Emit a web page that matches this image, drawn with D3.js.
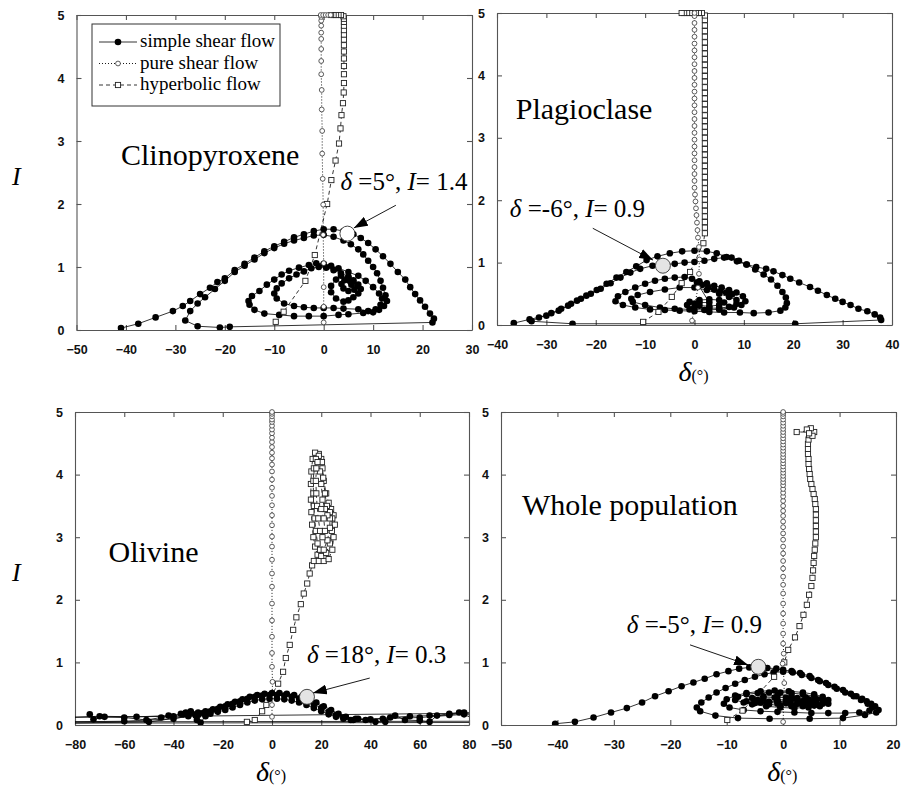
<!DOCTYPE html>
<html>
<head>
<meta charset="utf-8">
<script src="https://cdn.jsdelivr.net/npm/d3@7"></script>
<style>
  body { margin: 0; background: #fff; }
  svg { display: block; }
</style>
</head>
<body>
<svg id="chart"></svg>
<script>
// --- data: [delta (deg), I] ---
const cpxSimple = [
  [-41,0.03],[-37.5,0.1],[-34,0.2],[-30.5,0.3],[-28.5,0.38],[-27,0.46],[-25,0.57],[-23,0.67],[-21.5,0.76],[-20,0.82],
  [-18,0.95],[-16,1.05],[-14,1.15],[-12,1.25],[-10,1.33],[-8,1.4],[-6,1.47],[-4,1.52],[-2,1.57],[0,1.6],[2,1.6],
  [4,1.57],[6,1.52],[7.5,1.46],[9,1.38],[10.5,1.28],[12,1.17],[13.5,1.05],[15,0.92],[16.5,0.8],[17.5,0.68],
  [18.5,0.57],[19.5,0.47],[20.5,0.37],[21.5,0.26],[22.3,0.18],[22,0.12],
  [-19,0.05],[-21,0.04],[-25.5,0.06],[-28,0.15],
  [-27,0.3],[-25.5,0.42],[-24,0.52],[-22,0.65],[-20,0.78],[-18,0.92],[-16,1.02],[-14,1.12],[-12,1.22],[-10,1.3],
  [-8,1.37],[-6,1.42],[-4,1.46],[-2,1.5],[0,1.51],[2,1.48],[4,1.42],[5.5,1.36],[7,1.28],[8,1.2],[9,1.1],[10,1.0],
  [10.8,0.9],[11.5,0.78],[12,0.67],[12.5,0.55],[12.8,0.46],[12.2,0.38],[11.2,0.32],
  [10,0.28],[8,0.27],[5,0.25],[3,0.24],[0,0.22],[-3,0.22],[-6,0.22],[-9,0.24],[-12,0.26],[-14,0.32],[-15,0.4],
  [-15.2,0.46],[-14.5,0.54],[-13,0.62],[-11.5,0.72],[-10,0.8],[-8.5,0.88],[-7,0.94],[-5,0.99],[-3,1.03],[-1.5,1.06],
  [0,1.05],[1.5,1.02],[3,0.98],[5,0.92],[7,0.86],[8.5,0.78],[10,0.68],[11.2,0.58],[11.8,0.5],[11.5,0.4],[10.5,0.33],[9,0.3],
  [7,0.33],[4,0.34],[2,0.35],[0,0.35],[-2,0.35],[-4,0.36],[-6,0.38],[-8,0.42],[-9.5,0.5],[-10,0.58],[-9.5,0.66],
  [-8.5,0.74],[-7,0.82],[-5.5,0.88],[-4,0.93],[-2.5,0.98],[-1,1.0],[0.5,0.99],[2,0.95],[3.5,0.9],[5,0.85],[6,0.79],
  [7,0.72],[7.5,0.65],[7,0.58],[6,0.52],[5,0.47],[4,0.45],[2.5,0.5],[1.5,0.6],[1.5,0.7],[2.5,0.8],[3.5,0.86],
  [5,0.83],[6,0.77],[6.8,0.7],[6.2,0.64],[5,0.62],[4,0.66],[3.6,0.73],[4.2,0.79],[5.2,0.78],[5.6,0.72]
];
const cpxPure = [
  [0,0.12],[0,0.37],[0,0.68],[0,1.06],[-0.1,1.51],[-0.1,1.99],[-0.2,2.4],[-0.3,2.8],[-0.3,3.16],[-0.4,3.5],
  [-0.4,3.81],[-0.5,4.06],[-0.5,4.27],[-0.5,4.46],[-0.5,4.62],[-0.5,4.72],[-0.5,4.83],[-0.5,4.91],[-0.5,4.97],
  [-0.6,5],[-0.1,5],[0.4,5],[0.9,5],[1.4,5]
];
const cpxHyper = [
  [-9.7,0.13],[-8.1,0.29],[-3.7,0.78],[-1.8,1.19],[0.7,2.0],[1.55,2.38],[2.4,2.69],[3.1,2.96],[3.4,3.2],[3.6,3.41],
  [3.9,3.6],[4.05,3.77],[4.1,3.92],[4.1,4.06],[4.1,4.19],[4.1,4.31],[4.1,4.42],[4.1,4.52],[4.1,4.61],[4.1,4.69],
  [4.1,4.76],[4.1,4.83],[4.1,4.89],[4.1,4.94],[4,4.98],[3.5,5],[3,5],[2.5,5],[2,5],[1.5,5]
];

const plagSimple = [
  [-36.6,0.03],[-33.4,0.09],[-30,0.15],[-27.5,0.23],[-25.6,0.31],[-23.8,0.39],[-21.9,0.47],[-19.8,0.56],[-17.8,0.66],
  [-15.8,0.76],[-13.8,0.85],[-11.8,0.94],[-9.7,1.04],[-7.5,1.1],[-5,1.15],[-2.5,1.18],[0,1.19],[2.5,1.18],[4.5,1.15],
  [6.5,1.09],[8.6,1.02],[10.5,0.97],[12.5,0.93],[14.5,0.9],[16,0.86],[17.8,0.8],[19.4,0.74],[21.2,0.68],[23.4,0.61],
  [25,0.55],[26.8,0.48],[28.5,0.42],[30,0.37],[31.6,0.32],[33.2,0.26],[35,0.22],[36.5,0.17],[37.6,0.12],[37.8,0.08],
  [20.4,0.02],[-24.7,0.02],[-33,0.06],
  [-31.5,0.12],[-29,0.19],[-27,0.26],[-25,0.34],[-23,0.42],[-21,0.5],[-19,0.58],[-17,0.67],[-15,0.76],[-13,0.84],
  [-11,0.9],[-8.5,0.95],[-6,0.97],[-4,0.98],[-2,1.0],[0,1.01],[2,1.03],[4,1.06],[6,1.08],[7.5,1.08],[9,1.03],
  [10.6,0.97],[12.3,0.89],[14,0.81],[15.5,0.73],[16.8,0.63],[17.8,0.53],[18.5,0.44],[18.7,0.35],[18.4,0.28],[17.4,0.23],
  [15,0.2],[12,0.19],[9.2,0.2],[6,0.2],[3,0.21],[0,0.22],[-3,0.23],[-6,0.24],[-9,0.25],[-12,0.28],[-14.5,0.32],
  [-16,0.38],[-15.5,0.46],[-14,0.53],[-12,0.6],[-10,0.66],[-8,0.71],[-6,0.74],[-4,0.76],[-2,0.77],[-0.5,0.74],
  [1,0.7],[2.5,0.67],[4,0.63],[5.5,0.6],[7,0.56],[8.5,0.52],[9.8,0.46],[10.3,0.38],[9.5,0.32],[8,0.28],
  [5,0.25],[2,0.24],[-1,0.25],[-4,0.26],[-7,0.28],[-10,0.32],[-12.5,0.37],[-12.8,0.42],[-11.5,0.48],[-9,0.53],
  [-6,0.57],[-3,0.6],[0,0.6],[2.5,0.56],[5,0.5],[7,0.45],[8.5,0.4],[8.5,0.34],[7,0.29],[5,0.27],
  [3,0.27],[0,0.28],[-1.5,0.32],[-1,0.37],[1,0.4],[3,0.41],[5,0.4],[6,0.36],[5,0.32],[3,0.3],[1,0.31],[0,0.34],
  [1,0.36],[3,0.36],
  [0.5,0.68],[1.5,0.64],[2.8,0.6],[4,0.57],[5.2,0.54],[6.4,0.52],[7.6,0.49]
];
const plagPure = [
  [-0.5,0.07],[0.7,0.6],[0.9,0.82],[1,1.05],[0.9,1.25],[0.7,1.4],[0.6,1.52],[0.5,1.64],[0.4,1.76],[0.3,1.87],
  [0.2,1.98],[0.1,2.09],[0,2.2],[0,2.31],[0,2.42],[0,2.53],[0,2.64],[0,2.75],[0,2.86],[0,2.97],[0,3.08],[0,3.19],
  [0,3.3],[0,3.41],[0,3.52],[0,3.63],[0,3.74],[0,3.85],[0,3.96],[0,4.07],[0,4.18],[0,4.29],[0,4.4],[0,4.51],
  [0,4.62],[0,4.73],[0,4.84],[0,4.95],[0,5]
];
const plagHyper = [
  [-10.4,0.05],[-7.3,0.21],[-4.6,0.45],[-2.6,0.67],[-0.9,0.85],[1.8,1.31],[2.1,1.47],[2.1,1.56],[2.1,1.65],
  [2.1,1.74],[2.1,1.83],[2.1,1.92],[2.1,2.01],[2.1,2.1],[2.1,2.19],[2.1,2.28],[2.1,2.37],[2.1,2.46],[2.1,2.55],
  [2.1,2.64],[2.1,2.73],[2.1,2.82],[2.1,2.91],[2.1,3.0],[2.1,3.09],[2.1,3.18],[2.1,3.27],[2.1,3.36],[2.1,3.45],
  [2.1,3.54],[2.1,3.63],[2.1,3.72],[2.1,3.81],[2.1,3.9],[2.1,3.99],[2.1,4.08],[2.1,4.17],[2.1,4.26],[2.1,4.35],
  [2.1,4.44],[2.1,4.53],[2.1,4.62],[2.1,4.71],[2.1,4.8],[2.1,4.89],[2.1,4.96],[1.5,5],[0.9,5],[0.3,5],[-0.3,5],
  [-0.9,5],[-1.5,5],[-2.1,5],[-2.6,5]
];

const olvSimple = [
  [-74,0.17],[-72.5,0.09],[-68,0.13],[-60,0.12],[-51,0.08],[-45,0.12],[-40,0.14],[-37,0.18],[-35,0.2],[-33,0.22],
  [-31,0.15],[-30.5,0.08],[-29,0.04],
  [-27,0.14],[-25,0.18],[-22,0.21],[-19,0.24],[-16,0.28],[-13,0.32],[-10,0.36],[-7,0.39],[-4,0.41],[-1,0.42],
  [2,0.42],[5,0.41],[8,0.39],[11,0.36],[14,0.32],[17,0.27],[20,0.22],[23,0.17],[26,0.13],[29,0.1],[32,0.08],
  [35,0.1],[38,0.08],[42,0.05],[46,0.05],[50,0.15],[54,0.08],[60,0.07],[64,0.05],[67,0.15],[72,0.18],[76,0.2],
  [85,0.19],[-85,0.12],[-70,0.14],[-55,0.13],[-42,0.15],[-36,0.17],[-33,0.2],
  [-30,0.2],[-27,0.22],[-24,0.25],[-21,0.29],[-18,0.33],[-15,0.37],[-12,0.41],[-9,0.45],[-6,0.48],[-3,0.5],
  [0,0.51],[3,0.51],[6,0.5],[9,0.48],[12,0.45],[15,0.41],[18,0.36],[21,0.3],[24,0.24],[27,0.18],[30,0.13],
  [34,0.1],[40,0.09],[48,0.12],[56,0.14],[64,0.15],[72,0.16],[78,0.2],
  [85,0.06],[-85,0.05],[-60,0.06],[-40,0.1],[-34,0.14],
  [-31,0.17],[-28,0.19],[-25,0.22],[-22,0.26],[-19,0.3],[-16,0.34],[-13,0.38],[-10,0.42],[-7,0.45],[-4,0.47],
  [-1,0.48],[2,0.48],[5,0.47],[8,0.45],[11,0.42],[14,0.38],[17,0.33],[20,0.27],[23,0.21],[26,0.16],[29,0.12],
  [33,0.08],[45,0.1],[60,0.12],[78,0.17],[85,0.04],[-85,0.03],[-50,0.05],[-30,0.16]
];
const olvPure = [
  [0,0.13],[0,0.32],[0.2,0.69],[0,0.93],[0,1.15],[0,1.41],[0,1.67],[0,1.94],[0,2.21],[0,2.42],[0,2.64],[0,2.85],
  [0,3.01],[0,3.19],[0,3.35],[0,3.51],[0,3.66],[0,3.79],[0,3.92],[0,4.05],[0,4.16],[0,4.26],[0,4.35],[0,4.44],
  [0,4.52],[0,4.59],[0,4.66],[0,4.72],[0,4.78],[0,4.84],[0,4.88],[0,4.93],[0,4.97],[0,5]
];
const olvHyper = [
  [-10.2,0.05],[-7,0.08],[-4,0.22],[-2.3,0.32],[2.5,0.66],[4.5,0.85],[5.6,1.07],[7.2,1.28],[8.6,1.52],[9.9,1.72],
  [11.7,1.93],[12.9,2.1],[14.3,2.26],[15.3,2.42],[16.3,2.55],
  [17,2.62],[19,2.62],[21,2.62],[23,2.65],[24.5,2.8],[25,3.0],[25.5,3.2],[25,3.35],[24,3.45],[23,3.55],[22,3.7],
  [21,3.9],[20.5,4.1],[20,4.25],[19,4.33],[17.5,4.35],[16.5,4.25],[16,4.05],[15.8,3.85],[15.8,3.6],[16,3.4],
  [16.3,3.2],[16.8,3.0],[17.5,2.85],[18.5,2.72],[20,2.7],[22,2.75],[23.5,2.9],[24.3,3.1],[24.5,3.3],[23.5,3.4],
  [22.3,3.5],[21.5,3.7],[20.8,3.95],[20.3,4.2],[19,4.3],[17.8,4.25],[17,4.1],[16.8,3.9],[16.8,3.7],[17,3.5],
  [17.3,3.3],[17.8,3.1],[18.5,2.9],[19.5,2.8],[21,2.8],[22.5,2.95],[23.5,3.15],[23.5,3.3],[22.5,3.35],[21.5,3.45],
  [20.5,3.6],[20,3.85],[19.5,4.05],[18.5,4.2],[18,4.1],[17.8,3.9],[18,3.7],[18.3,3.5],[18.8,3.3],[19.5,3.1],
  [20.5,3.0],[21.5,3.1],[21,3.3],[20,3.45]
];

const wholeSimple = [
  [-40.4,0.02],[-36.9,0.05],[-33.6,0.12],[-30.5,0.2],[-27.7,0.27],[-25,0.36],[-22.7,0.46],[-20.3,0.54],[-18,0.62],
  [-15.9,0.68],[-13.9,0.74],[-11.8,0.81],[-9.7,0.86],[-7.8,0.9],[-6,0.92],[-4.4,0.92],[-2.8,0.91],[-1.2,0.9],
  [0,0.88],[1.5,0.86],[3,0.83],[4.7,0.78],[6.2,0.72],[7.6,0.67],[9.1,0.61],[10.6,0.56],[12,0.5],[13,0.46],
  [14,0.42],[14.8,0.38],[15.6,0.34],[16.3,0.3],[16.9,0.24],[16.5,0.2],[14.5,0.16],
  [10.6,0.11],[4.7,0.1],[-2.4,0.1],[-8,0.11],[-12,0.15],[-14.7,0.22],[-15.3,0.28],
  [-14.5,0.36],[-13.2,0.44],[-11.8,0.52],[-10.2,0.59],[-8.5,0.66],[-6.8,0.72],[-5,0.77],[-3.3,0.81],[-1.7,0.84],
  [0,0.85],[1.7,0.84],[3.3,0.8],[5,0.75],[6.5,0.7],[8,0.64],[9.5,0.58],[11,0.52],[12.5,0.46],[13.8,0.4],[15,0.34],
  [15.8,0.28],[15.3,0.23],[13.5,0.2],
  [11,0.19],[8,0.19],[5,0.19],[2,0.2],[-1,0.21],[-4,0.22],[-7,0.24],[-9.5,0.28],[-10.5,0.34],[-10,0.41],
  [-8.5,0.47],[-6.5,0.51],[-4,0.54],[-1.5,0.55],[1,0.54],[3.5,0.52],[5.5,0.49],[7,0.45],[8,0.4],[8,0.34],
  [6.5,0.3],[4.5,0.28],[2,0.27],[-0.5,0.28],[-3,0.3],[-5.5,0.33],[-6.5,0.38],[-5.5,0.43],[-3.5,0.46],[-1,0.47],
  [1.5,0.46],[4,0.44],[6,0.41],[7,0.37],[6,0.33],[4,0.32],[1.5,0.32],[-1,0.34],[-2.5,0.37],[-1,0.4],[1.5,0.41],
  [4,0.39],[5,0.37],[3.5,0.35],[1,0.36],
  [-1,0.38],[-3,0.36],[-5,0.35],[-7,0.36],[-8.5,0.4],[-8,0.45],[-6.5,0.49],[-4.5,0.51],[-2.5,0.52],[-0.5,0.52],
  [1.5,0.51],[3.5,0.49],[5.5,0.46],[7,0.42],[7.5,0.38],[7,0.34],[5.5,0.31],[3.5,0.3],[1.5,0.3],[-0.5,0.31],
  [-2.5,0.33],[-4,0.36],[-4.5,0.4],[-3.5,0.43],[-1.5,0.44],[0.5,0.44],[2.5,0.43],[4.5,0.41],[5.5,0.38],[4.5,0.35],
  [2.5,0.34],[0.5,0.35],[-1,0.37],[0.5,0.39],[2.5,0.39],[3.5,0.38]
];
const wholePure = [
  [0,0.05],[0.2,0.67],[-0.1,0.98],[0.1,1.14],[0,1.3],[0,1.46],[0,1.62],[0,1.78],[0,1.94],[0,2.1],[0,2.24],[0,2.37],
  [0,2.5],[0,2.62],[0,2.74],[0,2.85],[0,2.96],[0,3.06],[0,3.16],[0,3.25],[0,3.34],[0,3.42],[0,3.5],[0,3.58],
  [0,3.65],[0,3.71],[0,3.77],[0,3.83],[0,3.88],[0,3.93],[0,3.98],[0,4.03],[0,4.08],[0,4.13],[0,4.18],[0,4.23],
  [0,4.28],[0,4.33],[0,4.38],[0,4.43],[0,4.48],[0,4.53],[0,4.58],[0,4.63],[0,4.68],[0,4.73],[0,4.78],[0,4.83],
  [0,4.88],[0,4.93],[0,4.97],[0,5]
];
const wholeHyper = [
  [-9.9,0.08],[-7.2,0.23],[-1.6,0.77],[0.2,1.0],[0.9,1.2],[2.1,1.4],[2.9,1.58],[3.6,1.76],[4.2,1.92],[4.6,2.08],
  [5,2.22],[5.2,2.35],[5.3,2.47],[5.4,2.59],[5.5,2.7],[5.6,2.8],[5.7,2.9],[5.8,3.0],[5.8,3.09],[5.8,3.18],
  [5.8,3.27],[5.8,3.36],[5.8,3.45],[5.7,3.53],[5.6,3.61],[5.4,3.69],[5.2,3.77],[5,3.85],[4.8,3.93],[4.7,4.01],
  [4.6,4.09],[4.5,4.17],[4.5,4.25],[4.4,4.33],[4.4,4.41],[4.4,4.49],[4.5,4.56],[4.6,4.63],[4.7,4.7],[2.4,4.68],
  [5.5,4.68],[4.9,4.74],[4.2,4.72],[5.2,4.62],[4.6,4.66]
];

const yTicks = [0, 1, 2, 3, 4, 5];
const cpxTicks = [-50, -40, -30, -20, -10, 0, 10, 20, 30];
const plagTicks = [-40, -30, -20, -10, 0, 10, 20, 30, 40];
const olvTicks = [-80, -60, -40, -20, 0, 20, 40, 60, 80];
const wholeTicks = [-50, -40, -30, -20, -10, 0, 10, 20];

const legendLabels = ['simple shear flow', 'pure shear flow', 'hyperbolic flow'];
// annotated point: [delta, I] as printed
const cpxNote = ['5', '1.4'];
const plagNote = ['-6', '0.9'];
const olvNote = ['18', '0.3'];
const wholeNote = ['-5', '0.9'];

const width = 901;
const height = 787;

const svg = d3.select('#chart')
  .attr('width', width)
  .attr('height', height);

const defs = svg.append('defs');
defs.append('marker')
  .attr('id', 'arrow')
  .attr('markerUnits', 'userSpaceOnUse')
  .attr('viewBox', '0 0 14 10')
  .attr('refX', 14).attr('refY', 5)
  .attr('markerWidth', 14).attr('markerHeight', 10)
  .attr('orient', 'auto')
  .append('path')
  .attr('d', 'M0,0 L14,5 L0,10 Z')
  .attr('fill', '#000');

const serif = '"Liberation Serif", "Times New Roman", serif';
const sans = '"Liberation Sans", Arial, sans-serif';

const panels = [
  { id: 'cpx', title: 'Clinopyroxene', simple: cpxSimple, pure: cpxPure, hyper: cpxHyper,
    xDomain: [-50, 30], xTicks: cpxTicks, box: [76.5, 15, 472, 330],
    titleAt: [-41, 2.62], yTitle: true, xTitle: false, legend: true,
    note: cpxNote, noteAt: [3.4, 2.22], arrowFrom: [14.6, 1.98], arrowTo: [6.1, 1.62], dot: [4.8, 1.53], dotFill: '#fff' },
  { id: 'plag', title: 'Plagioclase', simple: plagSimple, pure: plagPure, hyper: plagHyper,
    xDomain: [-40, 40], xTicks: plagTicks, box: [497, 13, 892, 325],
    titleAt: [-36.2, 3.3], yTitle: false, xTitle: true, legend: false,
    note: plagNote, noteAt: [-37.4, 1.73], arrowFrom: [-20.6, 1.55], arrowTo: [-8.4, 1.04], dot: [-6.4, 0.95], dotFill: '#e4e4e4' },
  { id: 'olv', title: 'Olivine', simple: olvSimple, pure: olvPure, hyper: olvHyper,
    xDomain: [-80, 80], xTicks: olvTicks, box: [75, 412, 469, 725],
    titleAt: [-66.4, 2.6], yTitle: true, xTitle: true, legend: false,
    note: olvNote, noteAt: [14.2, 0.99], arrowFrom: [39.7, 0.75], arrowTo: [16.6, 0.51], dot: [14.2, 0.45], dotFill: '#e4e4e4' },
  { id: 'whole', title: 'Whole population', simple: wholeSimple, pure: wholePure, hyper: wholeHyper,
    xDomain: [-50, 20], xTicks: wholeTicks, box: [501, 412, 896, 725],
    titleAt: [-46.3, 3.35], yTitle: false, xTitle: true, legend: false,
    note: wholeNote, noteAt: [-27.7, 1.47], arrowFrom: [-16.5, 1.28], arrowTo: [-6.2, 0.96], dot: [-4.4, 0.93], dotFill: '#e4e4e4' }
];

function drawMarkers (g, pts, kind) {
  if (kind === 'simple') {
    g.selectAll('circle.s').data(pts).enter().append('circle')
      .attr('class', 's')
      .attr('cx', d => d[0]).attr('cy', d => d[1])
      .attr('r', 3.3)
      .attr('fill', '#000')
  } else if (kind === 'pure') {
    g.selectAll('circle.p').data(pts).enter().append('circle')
      .attr('class', 'p')
      .attr('cx', d => d[0]).attr('cy', d => d[1])
      .attr('r', 2.4)
      .attr('fill', '#fff')
      .attr('stroke', '#333')
      .attr('stroke-width', 0.8)
  } else {
    g.selectAll('rect.h').data(pts).enter().append('rect')
      .attr('class', 'h')
      .attr('x', d => d[0] - 2.6).attr('y', d => d[1] - 2.6)
      .attr('width', 5.2).attr('height', 5.2)
      .attr('fill', '#fff')
      .attr('stroke', '#222')
      .attr('stroke-width', 0.9)
  }
}

const lineStyle = {
  simple: { dash: null, width: 0.8 },
  pure: { dash: '1,2', width: 0.9 },
  hyper: { dash: '4,3', width: 0.8 }
};

function drawSeries (g, data, x, y, kind) {
  const pts = data.map(d => [x(d[0]), y(d[1])]);
  g.append('path')
    .attr('d', d3.line()(pts))
    .attr('fill', 'none')
    .attr('stroke', '#000')
    .attr('stroke-width', lineStyle[kind].width)
    .attr('stroke-dasharray', lineStyle[kind].dash);
  drawMarkers(g.append('g'), pts, kind);
}

function noteText (sel, vals, size) {
  sel.style('font-family', serif).style('font-size', size + 'px');
  sel.append('tspan').attr('font-style', 'italic').text('δ');
  sel.append('tspan').text(' =' + vals[0] + '°, ');
  sel.append('tspan').attr('font-style', 'italic').text('I');
  sel.append('tspan').text('= ' + vals[1]);
}

panels.forEach(p => {
  const [left, top, right, bottom] = p.box;
  const x = d3.scaleLinear().domain(p.xDomain).range([left, right]);
  const y = d3.scaleLinear().domain([0, 5]).range([bottom, top]);
  const g = svg.append('g');

  defs.append('clipPath').attr('id', 'clip-' + p.id)
    .append('rect')
    .attr('x', left).attr('y', top - 3)
    .attr('width', right - left).attr('height', bottom - top + 3);

  // axes, ticks inside
  const axes = [
    { ax: d3.axisBottom(x).tickValues(p.xTicks).tickSize(-5).tickSizeOuter(0).tickPadding(15), t: `translate(0,${bottom})`, labels: true, bottom: true },
    { ax: d3.axisTop(x).tickValues(p.xTicks).tickSize(-5).tickSizeOuter(0), t: `translate(0,${top})`, labels: false },
    { ax: d3.axisLeft(y).tickValues(yTicks).tickFormat(d3.format('d')).tickSize(-5).tickSizeOuter(0).tickPadding(12), t: `translate(${left},0)`, labels: true },
    { ax: d3.axisRight(y).tickValues(yTicks).tickSize(-5).tickSizeOuter(0), t: `translate(${right},0)`, labels: false }
  ];
  axes.forEach(a => {
    const ag = g.append('g').attr('transform', a.t).call(a.ax);
    ag.selectAll('path, line').attr('stroke', '#555').attr('stroke-width', 1.1);
    ag.selectAll('text')
      .attr('font-family', sans)
      .attr('font-size', 12.5)
      .attr('font-weight', 'bold')
      .attr('fill', '#111');
    if (!a.labels) ag.selectAll('text').remove();
    // keep the last x label inside the page
    if (a.bottom && x(p.xDomain[1]) > width - 8) {
      ag.selectAll('.tick:last-of-type text').attr('text-anchor', 'end').attr('x', 4);
    }
  });

  const plot = g.append('g').attr('clip-path', `url(#clip-${p.id})`);
  drawSeries(plot, p.simple, x, y, 'simple');
  drawSeries(plot, p.hyper, x, y, 'hyper');
  drawSeries(plot, p.pure, x, y, 'pure');

  // panel title
  g.append('text')
    .attr('x', x(p.titleAt[0])).attr('y', y(p.titleAt[1]))
    .style('font-family', serif).style('font-size', '30px')
    .text(p.title);

  // annotation
  g.append('text')
    .attr('x', x(p.noteAt[0])).attr('y', y(p.noteAt[1]))
    .call(noteText, p.note, 25);
  g.append('line')
    .attr('x1', x(p.arrowFrom[0])).attr('y1', y(p.arrowFrom[1]))
    .attr('x2', x(p.arrowTo[0])).attr('y2', y(p.arrowTo[1]))
    .attr('stroke', '#000').attr('stroke-width', 0.9)
    .attr('marker-end', 'url(#arrow)');
  g.append('circle')
    .attr('cx', x(p.dot[0])).attr('cy', y(p.dot[1]))
    .attr('r', 7.5)
    .attr('fill', p.dotFill)
    .attr('stroke', '#333').attr('stroke-width', 0.9);

  if (p.yTitle) {
    g.append('text')
      .attr('x', 12).attr('y', (top + bottom) / 2 + 12)
      .style('font-family', serif).style('font-size', '26px').style('font-style', 'italic')
      .text('I');
  }
  if (p.xTitle) {
    const t = g.append('text')
      .attr('x', x(0) - 16).attr('y', bottom + 56)
      .style('font-family', serif);
    t.append('tspan').style('font-size', '28px').style('font-style', 'italic').text('δ');
    t.append('tspan').style('font-size', '16px').text('(°)');
  }

  if (p.legend) {
    const lg = g.append('g');
    lg.append('rect')
      .attr('x', 92).attr('y', 24).attr('width', 188).attr('height', 82)
      .attr('fill', '#fff').attr('stroke', '#333').attr('stroke-width', 1);
    const kinds = ['simple', 'pure', 'hyper'];
    legendLabels.forEach((lab, i) => {
      const yy = 42 + i * 21.5;
      lg.append('line')
        .attr('x1', 99).attr('x2', 137).attr('y1', yy).attr('y2', yy)
        .attr('stroke', '#000').attr('stroke-width', lineStyle[kinds[i]].width)
        .attr('stroke-dasharray', lineStyle[kinds[i]].dash);
      drawMarkers(lg.append('g'), [[118, yy]], kinds[i]);
      lg.append('text')
        .attr('x', 140).attr('y', yy + 5)
        .style('font-family', serif).style('font-size', '19px')
        .text(lab);
    });
  }
});
</script>
</body>
</html>
